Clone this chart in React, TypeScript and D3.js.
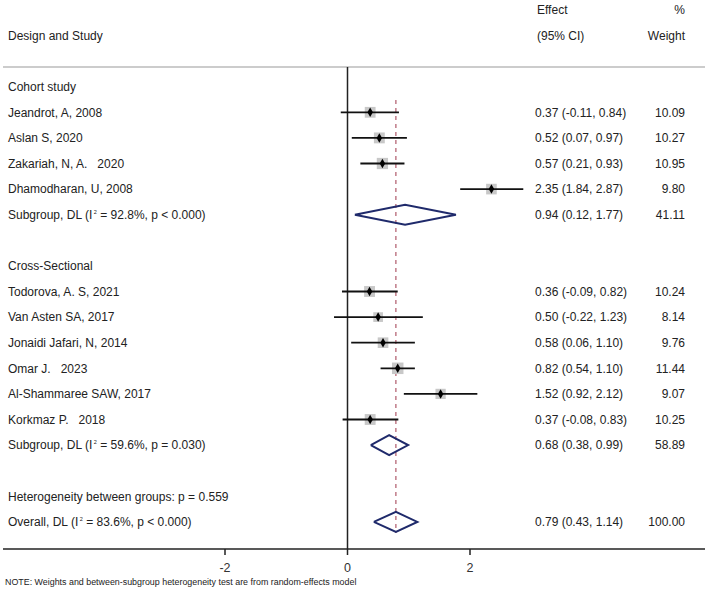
import React from 'react';
import * as d3 from 'd3';

// study rows, in plotting order
const cohortStudies = ['Jeandrot, A, 2008', 'Aslan S, 2020', 'Zakariah, N, A.   2020', 'Dhamodharan, U, 2008'];
const cohortEffect = [0.37, 0.52, 0.57, 2.35];
const cohortLower = [-0.11, 0.07, 0.21, 1.84];
const cohortUpper = [0.84, 0.97, 0.93, 2.87];
const cohortWeight = [10.09, 10.27, 10.95, 9.8];

const crossStudies = ['Todorova, A. S, 2021', 'Van Asten SA, 2017', 'Jonaidi Jafari, N, 2014', 'Omar J.   2023', 'Al-Shammaree SAW, 2017', 'Korkmaz P.   2018'];
const crossEffect = [0.36, 0.5, 0.58, 0.82, 1.52, 0.37];
const crossLower = [-0.09, -0.22, 0.06, 0.54, 0.92, -0.08];
const crossUpper = [0.82, 1.23, 1.1, 1.1, 2.12, 0.83];
const crossWeight = [10.24, 8.14, 9.76, 11.44, 9.07, 10.25];

// pooled estimates: [effect, lower, upper, weight]
const cohortPooled = [0.94, 0.12, 1.77, 41.11];
const crossPooled = [0.68, 0.38, 0.99, 58.89];
const overallPooled = [0.79, 0.43, 1.14, 100.0];
const heterogeneity = { cohort: '92.8%, p < 0.000', cross: '59.6%, p = 0.030', overall: '83.6%, p < 0.000' };
const betweenP = '0.559';

const xTicks = [-2, 0, 2];

type Row =
  | { kind: 'header'; label: string }
  | { kind: 'study'; label: string; es: number; lo: number; hi: number; w: number }
  | { kind: 'pooled'; label: string; i2: string; es: number; lo: number; hi: number; w: number }
  | { kind: 'text'; label: string }
  | { kind: 'blank' };

const rows: Row[] = [
  { kind: 'header', label: 'Cohort study' },
  ...cohortStudies.map((s, i) => ({ kind: 'study' as const, label: s, es: cohortEffect[i], lo: cohortLower[i], hi: cohortUpper[i], w: cohortWeight[i] })),
  { kind: 'pooled', label: 'Subgroup', i2: heterogeneity.cohort, es: cohortPooled[0], lo: cohortPooled[1], hi: cohortPooled[2], w: cohortPooled[3] },
  { kind: 'blank' },
  { kind: 'header', label: 'Cross-Sectional' },
  ...crossStudies.map((s, i) => ({ kind: 'study' as const, label: s, es: crossEffect[i], lo: crossLower[i], hi: crossUpper[i], w: crossWeight[i] })),
  { kind: 'pooled', label: 'Subgroup', i2: heterogeneity.cross, es: crossPooled[0], lo: crossPooled[1], hi: crossPooled[2], w: crossPooled[3] },
  { kind: 'blank' },
  { kind: 'text', label: `Heterogeneity between groups: p = ${betweenP}` },
  { kind: 'pooled', label: 'Overall', i2: heterogeneity.overall, es: overallPooled[0], lo: overallPooled[1], hi: overallPooled[2], w: overallPooled[3] },
];

const W = 709;
const H = 596;
const font = 'Liberation Sans, Arial, sans-serif';
const navy = '#1f2a6b';
// plain hyphen for negatives, as Stata prints them
const fmt = (v: number) => d3.format('.2f')(v).replace('\u2212', '-');

export default function App() {
  const x = d3.scaleLinear().domain([-2, 2]).range([225, 470]);
  const y = d3.scaleLinear().domain([0, rows.length - 1]).range([86.7, 521.9]);
  const side = (w: number) => 3.4 * Math.sqrt(w);
  const axisY = 549;
  const topY = 67;
  const effectX = 535;
  const weightX = 685;

  const diamond = (es: number, lo: number, hi: number, cy: number) => {
    const h = 10;
    return d3.line()([
      [x(lo), cy],
      [x(es), cy - h],
      [x(hi), cy],
      [x(es), cy + h],
      [x(lo), cy],
    ]) as string;
  };

  return (
    <svg width={W} height={H} style={{ position: 'absolute', left: 0, top: 0, background: '#fff' }} fontFamily={font}>
      {/* column headers */}
      <text x={8} y={36} dy="0.35em" fontSize={12} fill="#222">Design and Study</text>
      <text x={537} y={10} dy="0.35em" fontSize={12} fill="#222">Effect</text>
      <text x={537} y={36} dy="0.35em" fontSize={12} fill="#222">(95% CI)</text>
      <text x={weightX} y={10} dy="0.35em" fontSize={12} fill="#222" textAnchor="end">%</text>
      <text x={weightX} y={36} dy="0.35em" fontSize={12} fill="#222" textAnchor="end">Weight</text>
      <line x1={3} x2={705} y1={topY} y2={topY} stroke="#999" strokeWidth={1.2} />

      {/* null line */}
      <line x1={x(0)} x2={x(0)} y1={topY} y2={axisY} stroke="#222" strokeWidth={1.5} />
      {/* overall effect line */}
      <line x1={x(overallPooled[0])} x2={x(overallPooled[0])} y1={100} y2={533} stroke="#b05a6a" strokeWidth={1.2} strokeDasharray="4,4" />

      {rows.map((r, i) => {
        const cy = y(i);
        if (r.kind === 'blank') return null;
        if (r.kind === 'header' || r.kind === 'text') {
          return <text key={i} x={8} y={cy} dy="0.35em" fontSize={12} fill="#222">{r.label}</text>;
        }
        const label = r.kind === 'pooled' ? (
          <text x={8} y={cy} dy="0.35em" fontSize={12} fill="#222" xmlSpace="preserve">
            {r.label}, DL (I<tspan fontSize={5.5} dy="-5">{' 2'}</tspan><tspan dy="5">{` = ${r.i2})`}</tspan>
          </text>
        ) : (
          <text x={8} y={cy} dy="0.35em" fontSize={12} fill="#222" xmlSpace="preserve">{r.label}</text>
        );
        const s = r.kind === 'study' ? side(r.w) : 0;
        return (
          <g key={i}>
            {label}
            {r.kind === 'study' ? (
              <g>
                <rect x={x(r.es) - s / 2} y={cy - s / 2} width={s} height={s} fill="#c8c8c8" />
                <line x1={x(r.lo)} x2={x(r.hi)} y1={cy} y2={cy} stroke="#111" strokeWidth={1.8} />
                <path d={d3.symbol(d3.symbolDiamond, 26)() as string} transform={`translate(${x(r.es)},${cy})`} fill="#000" />
              </g>
            ) : (
              <path d={diamond(r.es, r.lo, r.hi, cy)} fill="none" stroke={navy} strokeWidth={2} />
            )}
            <text x={effectX} y={cy} dy="0.35em" fontSize={12} fill="#222">
              {`${fmt(r.es)} (${fmt(r.lo)}, ${fmt(r.hi)})`}
            </text>
            <text x={weightX} y={cy} dy="0.35em" fontSize={12} fill="#222" textAnchor="end">{fmt(r.w)}</text>
          </g>
        );
      })}

      {/* x axis */}
      <line x1={3} x2={705} y1={axisY} y2={axisY} stroke="#222" strokeWidth={1.5} />
      {xTicks.map((t) => (
        <g key={t}>
          <line x1={x(t)} x2={x(t)} y1={axisY} y2={axisY + 6} stroke="#222" strokeWidth={1.5} />
          <text x={x(t)} y={568} dy="0.35em" fontSize={12.5} fill="#333" textAnchor="middle">{t}</text>
        </g>
      ))}

      <text x={5} y={582} dy="0.35em" fontSize={8.9} fill="#222">
        NOTE: Weights and between-subgroup heterogeneity test are from random-effects model
      </text>
    </svg>
  );
}
